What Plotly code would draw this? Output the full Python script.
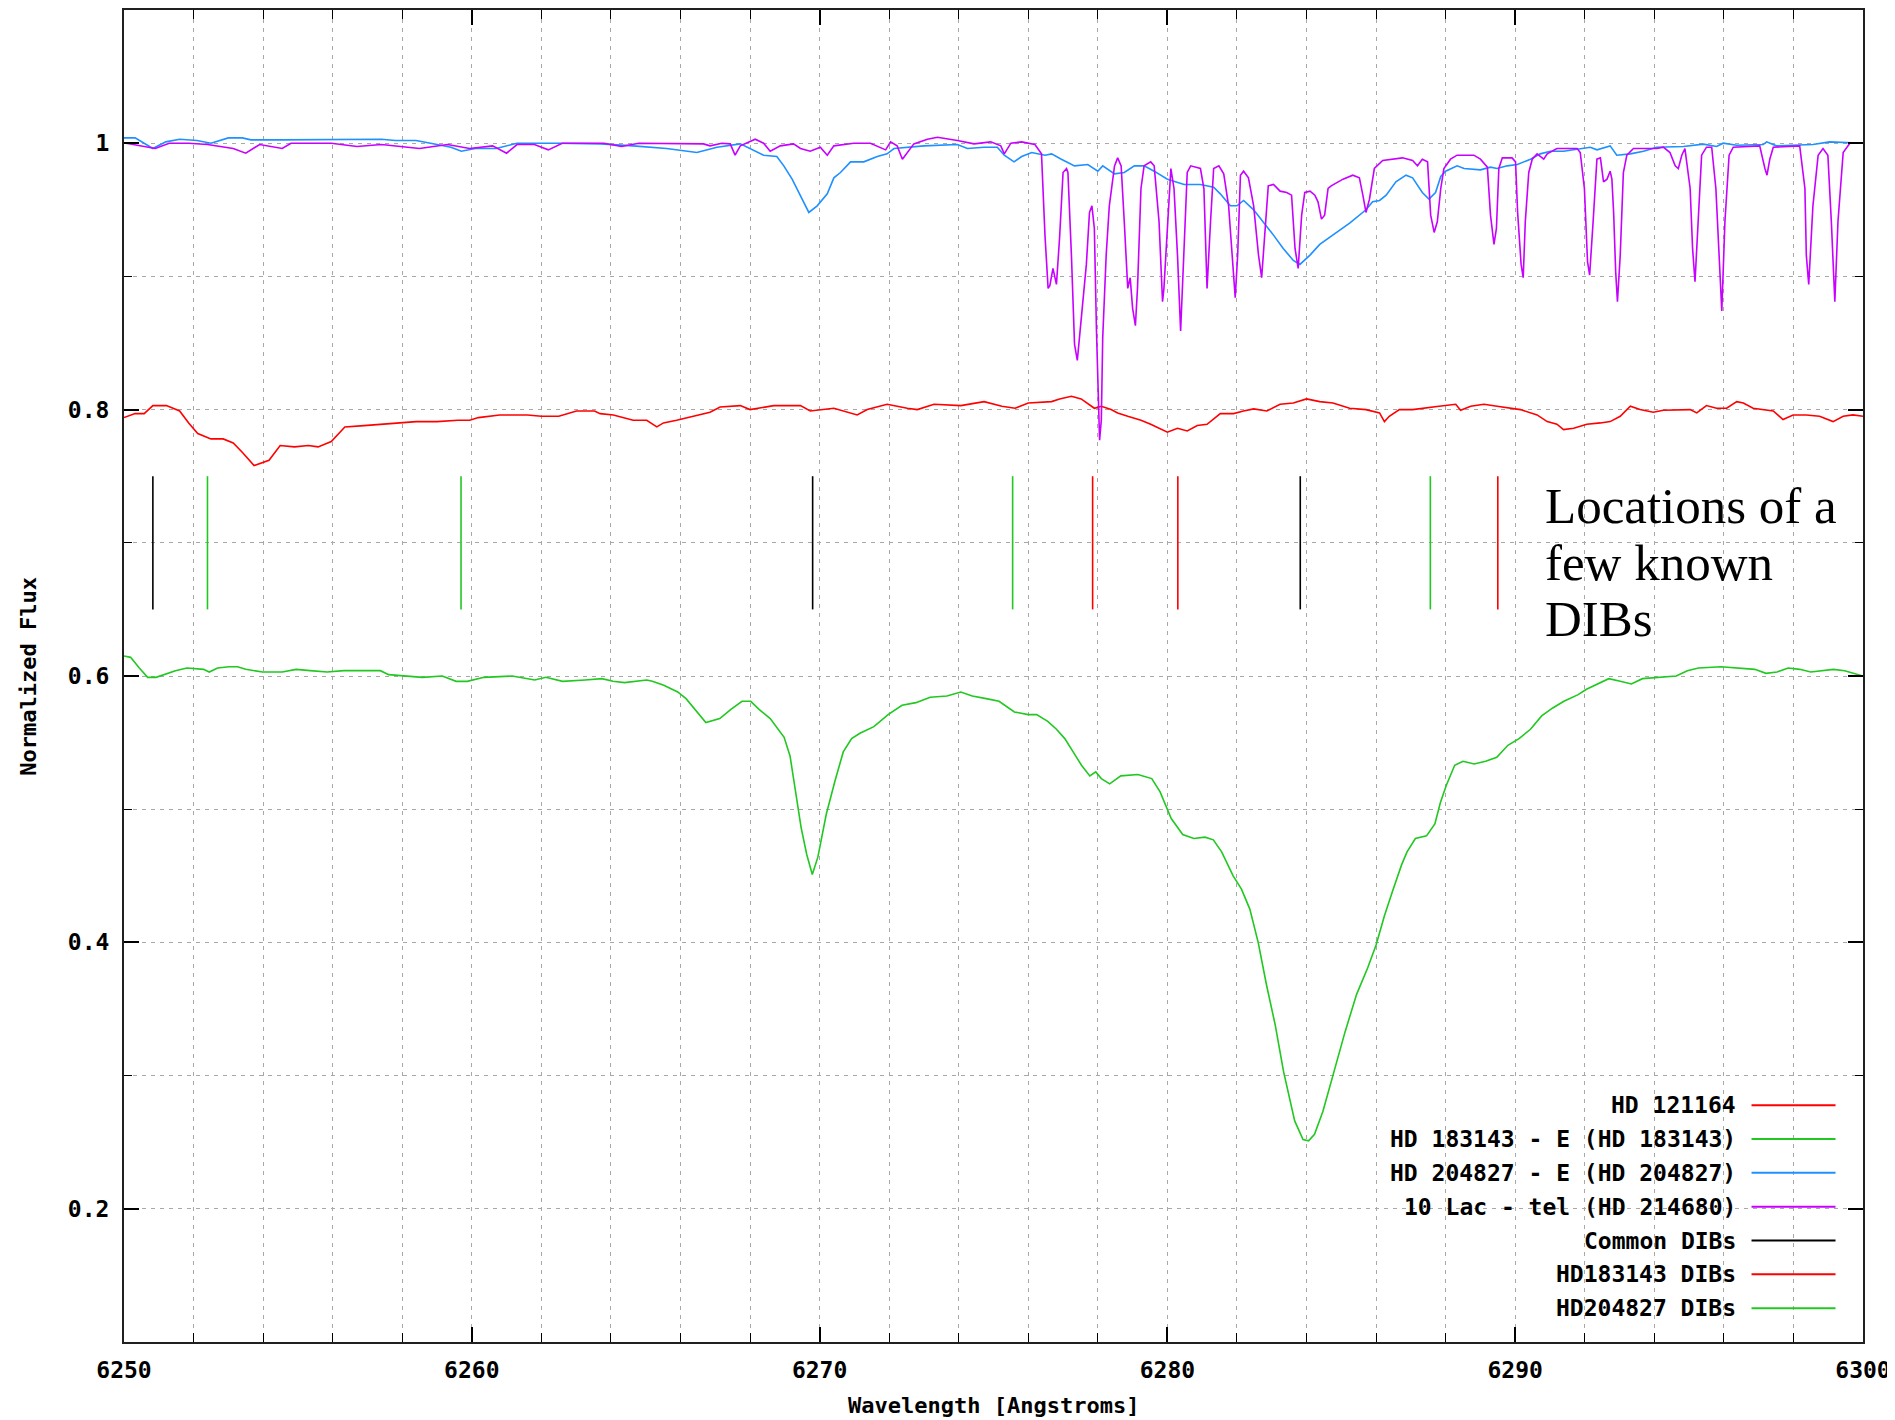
import plotly.graph_objects as go

# ---------------- data ----------------
RED_WL = [6250.0, 6250.32, 6250.58, 6250.83, 6251.22, 6251.6, 6251.86, 6252.12, 6252.5, 6252.85,
          6253.14, 6253.4, 6253.74, 6253.95, 6254.17, 6254.49, 6254.9, 6255.3, 6255.58, 6255.96,
          6256.35, 6256.9, 6257.5, 6258.0, 6258.4, 6259.0, 6259.6, 6259.94, 6260.19, 6260.8,
          6261.6, 6262.0, 6262.5, 6263.01, 6263.53, 6263.69, 6264.07, 6264.64, 6265.03, 6265.32,
          6265.51, 6265.89, 6266.37, 6266.85, 6267.14, 6267.72, 6268.0, 6268.68, 6269.45, 6269.73,
          6270.41, 6271.08, 6271.37, 6271.94, 6272.52, 6272.81, 6273.29, 6274.06, 6274.73, 6275.24,
          6275.62, 6276.0, 6276.67, 6276.9, 6277.24, 6277.52, 6277.9, 6278.1, 6278.38, 6278.57,
          6278.86, 6279.24, 6279.52, 6279.81, 6280.0, 6280.29, 6280.57, 6280.86, 6281.14, 6281.52,
          6281.9, 6282.19, 6282.48, 6282.86, 6283.24, 6283.62, 6284.0, 6284.38, 6284.76, 6285.24,
          6285.71, 6286.1, 6286.24, 6286.38, 6286.67, 6287.05, 6287.43, 6287.81, 6288.29, 6288.43,
          6288.72, 6289.1, 6289.48, 6289.86, 6290.15, 6290.63, 6290.92, 6291.2, 6291.39, 6291.68,
          6292.06, 6292.45, 6292.73, 6293.02, 6293.31, 6293.59, 6293.97, 6294.26, 6294.64, 6295.03,
          6295.22, 6295.5, 6295.79, 6296.08, 6296.37, 6296.56, 6296.84, 6297.13, 6297.42, 6297.7,
          6297.99, 6298.37, 6298.75, 6299.14, 6299.43, 6299.71, 6300.0]
RED_FLUX = [0.794, 0.797, 0.797, 0.803, 0.803, 0.799, 0.790, 0.782, 0.778, 0.778,
            0.775, 0.768, 0.758, 0.760, 0.762, 0.773, 0.772, 0.773, 0.772, 0.776,
            0.787, 0.788, 0.789, 0.790, 0.791, 0.791, 0.792, 0.792, 0.794, 0.796,
            0.796, 0.795, 0.795, 0.799, 0.799, 0.797, 0.796, 0.792, 0.792, 0.787,
            0.790, 0.792, 0.795, 0.798, 0.802, 0.803, 0.800, 0.803, 0.803, 0.799,
            0.801, 0.796, 0.800, 0.804, 0.801, 0.800, 0.804, 0.803, 0.806, 0.8025,
            0.801, 0.805, 0.806, 0.808, 0.810, 0.808, 0.801, 0.8025, 0.800, 0.7975,
            0.795, 0.792, 0.789, 0.785, 0.783, 0.786, 0.784, 0.788, 0.789, 0.797,
            0.797, 0.799, 0.8005, 0.799, 0.804, 0.805, 0.808, 0.806, 0.805, 0.801,
            0.800, 0.7975, 0.791, 0.795, 0.800, 0.800, 0.801, 0.8025, 0.804, 0.7995,
            0.8025, 0.804, 0.8025, 0.801, 0.800, 0.796, 0.791, 0.789, 0.785, 0.786,
            0.789, 0.790, 0.791, 0.795, 0.8025, 0.800, 0.798, 0.7995, 0.800, 0.800,
            0.7975, 0.803, 0.801, 0.801, 0.806, 0.805, 0.801, 0.800, 0.799, 0.7925,
            0.796, 0.796, 0.795, 0.791, 0.795, 0.796, 0.795]

GREEN_WL = [6250.0, 6250.19, 6250.44, 6250.68, 6250.92, 6251.16, 6251.48, 6251.81, 6252.29, 6252.45,
            6252.69, 6253.02, 6253.26, 6253.5, 6253.98, 6254.55, 6254.95, 6255.35, 6255.84, 6256.32,
            6256.81, 6257.37, 6257.61, 6258.1, 6258.58, 6259.15, 6259.55, 6259.87, 6260.35, 6261.16,
            6261.81, 6262.13, 6262.61, 6263.26, 6263.74, 6264.06, 6264.39, 6265.03, 6265.19, 6265.52,
            6265.92, 6266.16, 6266.48, 6266.73, 6267.13, 6267.45, 6267.77, 6268.02, 6268.26, 6268.58,
            6268.98, 6269.15, 6269.31, 6269.47, 6269.63, 6269.79, 6269.95, 6270.19, 6270.44, 6270.68,
            6270.92, 6271.16, 6271.56, 6271.97, 6272.37, 6272.77, 6273.18, 6273.66, 6274.06, 6274.39,
            6274.79, 6275.16, 6275.6, 6276.0, 6276.24, 6276.56, 6276.81, 6277.05, 6277.29, 6277.53,
            6277.77, 6277.94, 6278.1, 6278.34, 6278.66, 6279.15, 6279.55, 6279.79, 6280.11, 6280.44,
            6280.76, 6281.08, 6281.32, 6281.56, 6281.89, 6282.13, 6282.37, 6282.61, 6282.85, 6283.1,
            6283.34, 6283.66, 6283.9, 6284.06, 6284.23, 6284.47, 6284.79, 6285.11, 6285.44, 6285.76,
            6286.0, 6286.24, 6286.48, 6286.73, 6286.89, 6287.13, 6287.45, 6287.69, 6287.85, 6288.02,
            6288.26, 6288.5, 6288.82, 6289.15, 6289.47, 6289.79, 6290.11, 6290.44, 6290.76, 6291.08,
            6291.4, 6291.81, 6292.05, 6292.37, 6292.69, 6293.02, 6293.34, 6293.66, 6294.31, 6294.63,
            6294.95, 6295.27, 6295.92, 6296.4, 6296.89, 6297.21, 6297.53, 6297.85, 6298.18, 6298.5,
            6299.15, 6299.47, 6300.0]
GREEN_FLUX = [0.615, 0.614, 0.606, 0.599, 0.599, 0.601, 0.604, 0.606, 0.605, 0.603,
              0.606, 0.607, 0.607, 0.605, 0.603, 0.603, 0.605, 0.604, 0.603, 0.604,
              0.604, 0.604, 0.601, 0.600, 0.599, 0.600, 0.596, 0.596, 0.599, 0.600,
              0.597, 0.599, 0.596, 0.597, 0.598, 0.596, 0.595, 0.597, 0.596, 0.593,
              0.588, 0.583, 0.573, 0.565, 0.568, 0.575, 0.581, 0.581, 0.575, 0.568,
              0.554, 0.540, 0.513, 0.486, 0.466, 0.451, 0.464, 0.496, 0.521, 0.543,
              0.553, 0.557, 0.562, 0.571, 0.578, 0.580, 0.584, 0.585, 0.588, 0.585,
              0.583, 0.581, 0.573, 0.571, 0.571, 0.566, 0.560, 0.553, 0.543, 0.533,
              0.525, 0.528, 0.523, 0.519, 0.525, 0.526, 0.523, 0.513, 0.493, 0.481,
              0.478, 0.479, 0.477, 0.468, 0.450, 0.440, 0.425, 0.400, 0.368, 0.338,
              0.303, 0.266, 0.252, 0.251, 0.256, 0.273, 0.303, 0.333, 0.361, 0.381,
              0.398, 0.420, 0.439, 0.458, 0.468, 0.478, 0.480, 0.489, 0.505, 0.518,
              0.533, 0.536, 0.534, 0.536, 0.539, 0.548, 0.553, 0.560, 0.570, 0.576,
              0.581, 0.586, 0.590, 0.594, 0.598, 0.596, 0.594, 0.598, 0.599, 0.600,
              0.604, 0.606, 0.607, 0.606, 0.605, 0.602, 0.603, 0.606, 0.605, 0.603,
              0.605, 0.604, 0.600]

BLUE_WL = [6250.0, 6250.32, 6250.83, 6251.2, 6251.6, 6252.1, 6252.5, 6253.0, 6253.4, 6253.65,
           6254.5, 6255.0, 6255.96, 6256.6, 6257.4, 6257.8, 6258.4, 6259.0, 6259.4, 6259.7,
           6260.1, 6260.7, 6261.3, 6262.5, 6263.7, 6264.64, 6265.6, 6266.47, 6267.05, 6267.72,
           6268.0, 6268.39, 6268.77, 6268.97, 6269.21, 6269.45, 6269.69, 6269.93, 6270.22, 6270.41,
           6270.6, 6270.89, 6271.27, 6271.66, 6271.94, 6272.14, 6272.52, 6273.0, 6273.96, 6274.25,
           6274.73, 6275.11, 6275.31, 6275.59, 6275.81, 6276.1, 6276.48, 6276.67, 6276.95, 6277.33,
           6277.71, 6278.0, 6278.14, 6278.48, 6278.76, 6279.05, 6279.33, 6279.62, 6280.0, 6280.48,
           6280.95, 6281.33, 6281.52, 6281.81, 6282.0, 6282.19, 6282.48, 6282.76, 6283.05, 6283.33,
           6283.62, 6283.81, 6284.1, 6284.38, 6284.76, 6285.24, 6285.71, 6285.9, 6286.1, 6286.29,
           6286.57, 6286.86, 6287.05, 6287.33, 6287.52, 6287.71, 6287.86, 6288.0, 6288.33, 6288.53,
           6289.0, 6289.29, 6289.48, 6289.77, 6290.06, 6290.44, 6290.72, 6291.01, 6291.39, 6291.97,
           6292.16, 6292.35, 6292.73, 6292.92, 6293.31, 6293.69, 6294.07, 6294.84, 6295.22, 6295.41,
           6295.79, 6295.98, 6296.37, 6297.13, 6297.23, 6297.51, 6298.56, 6299.04, 6300.0]
BLUE_FLUX = [1.004, 1.004, 0.996, 1.001, 1.003, 1.002, 1.000, 1.004, 1.004, 1.0025,
             1.0025, 1.0025, 1.0025, 1.003, 1.003, 1.002, 1.002, 0.999, 0.997, 0.994,
             0.996, 0.996, 1.000, 1.000, 0.9995, 0.998, 0.996, 0.993, 0.997, 0.9995,
             0.996, 0.991, 0.990, 0.983, 0.973, 0.960, 0.948, 0.953, 0.962, 0.974,
             0.978, 0.986, 0.986, 0.990, 0.992, 0.996, 0.997, 0.998, 0.999, 0.996,
             0.997, 0.997, 0.991, 0.986, 0.990, 0.993, 0.991, 0.992, 0.988, 0.983,
             0.984, 0.979, 0.983, 0.977, 0.978, 0.983, 0.983, 0.979, 0.973, 0.969,
             0.969, 0.967, 0.962, 0.953, 0.953, 0.957, 0.950, 0.941, 0.931, 0.921,
             0.912, 0.909, 0.916, 0.924, 0.931, 0.940, 0.950, 0.956, 0.957, 0.961,
             0.971, 0.976, 0.974, 0.963, 0.958, 0.963, 0.975, 0.979, 0.983, 0.981,
             0.980, 0.982, 0.981, 0.983, 0.984, 0.988, 0.992, 0.994, 0.994, 0.996,
             0.997, 0.995, 0.998, 0.991, 0.992, 0.994, 0.997, 0.9975, 0.9985, 0.9993,
             0.9975, 1.000, 0.9985, 0.999, 1.001, 0.998, 0.999, 1.001, 1.000]

PURPLE_WL = [6250.06, 6250.58, 6250.9, 6251.3, 6251.86, 6252.4, 6253.14, 6253.5, 6253.9, 6254.55,
             6254.8, 6255.96, 6256.7, 6257.4, 6258.5, 6259.3, 6259.94, 6260.6, 6261.0, 6261.3,
             6261.8, 6262.2, 6262.6, 6263.8, 6264.3, 6264.8, 6265.6, 6266.66, 6266.85, 6267.19,
             6267.43, 6267.57, 6267.72, 6267.91, 6268.15, 6268.39, 6268.58, 6268.87, 6269.25, 6269.45,
             6269.73, 6270.02, 6270.22, 6270.41, 6270.98, 6271.46, 6271.9, 6272.04, 6272.23, 6272.38,
             6272.52, 6272.71, 6273.1, 6273.39, 6273.96, 6274.44, 6274.92, 6275.21, 6275.31, 6275.5,
             6275.81, 6276.19, 6276.38, 6276.48, 6276.57, 6276.62, 6276.71, 6276.81, 6276.9, 6277.0,
             6277.1, 6277.14, 6277.24, 6277.33, 6277.41, 6277.52, 6277.67, 6277.76, 6277.83, 6277.9,
             6277.96, 6278.05, 6278.1, 6278.14, 6278.24, 6278.33, 6278.48, 6278.57, 6278.67, 6278.76,
             6278.86, 6278.93, 6279.0, 6279.08, 6279.14, 6279.24, 6279.33, 6279.52, 6279.62, 6279.76,
             6279.86, 6279.9, 6280.0, 6280.1, 6280.19, 6280.29, 6280.38, 6280.48, 6280.57, 6280.67,
             6280.95, 6281.05, 6281.14, 6281.24, 6281.33, 6281.48, 6281.62, 6281.76, 6281.86, 6281.95,
             6282.02, 6282.1, 6282.19, 6282.33, 6282.48, 6282.62, 6282.71, 6282.81, 6282.9, 6283.05,
             6283.24, 6283.43, 6283.57, 6283.67, 6283.76, 6283.86, 6283.95, 6284.1, 6284.24, 6284.33,
             6284.43, 6284.52, 6284.62, 6284.71, 6285.05, 6285.33, 6285.52, 6285.62, 6285.71, 6285.81,
             6285.95, 6286.19, 6286.48, 6286.76, 6287.05, 6287.19, 6287.33, 6287.48, 6287.57, 6287.67,
             6287.76, 6287.86, 6287.95, 6288.14, 6288.33, 6288.81, 6289.0, 6289.2, 6289.29, 6289.39,
             6289.46, 6289.53, 6289.63, 6289.91, 6290.01, 6290.07, 6290.17, 6290.23, 6290.29, 6290.39,
             6290.49, 6290.63, 6290.82, 6290.92, 6291.2, 6291.78, 6291.87, 6291.99, 6292.08, 6292.14,
             6292.24, 6292.35, 6292.45, 6292.54, 6292.64, 6292.73, 6292.78, 6292.83, 6292.89, 6292.94,
             6293.02, 6293.11, 6293.21, 6293.4, 6294.07, 6294.26, 6294.45, 6294.6, 6294.69, 6294.79,
             6294.88, 6295.03, 6295.1, 6295.17, 6295.27, 6295.36, 6295.5, 6295.65, 6295.77, 6295.87,
             6295.94, 6296.03, 6296.15, 6296.27, 6297.03, 6297.18, 6297.24, 6297.32, 6297.42, 6298.18,
             6298.33, 6298.37, 6298.44, 6298.56, 6298.71, 6298.85, 6298.99, 6299.09, 6299.19, 6299.28,
             6299.43, 6299.62, 6300.0]
PURPLE_FLUX = [1.000, 0.9975, 0.996, 1.000, 1.000, 0.999, 0.996, 0.9925, 0.999, 0.996,
               1.000, 1.000, 0.9975, 0.999, 0.996, 0.999, 0.996, 0.998, 0.9925, 0.999,
               0.999, 0.995, 1.000, 1.000, 0.9975, 1.000, 1.000, 0.9995, 0.998, 1.000,
               0.9995, 0.991, 0.998, 1.000, 1.003, 1.000, 0.994, 0.998, 0.9995, 0.996,
               0.994, 0.997, 0.991, 0.998, 1.000, 1.000, 0.995, 1.001, 0.998, 0.988,
               0.993, 0.9995, 1.003, 1.0045, 1.002, 0.9995, 1.001, 0.998, 0.992, 1.000,
               1.001, 0.999, 0.992, 0.931, 0.891, 0.893, 0.906, 0.894, 0.929, 0.978,
               0.981, 0.978, 0.916, 0.849, 0.837, 0.867, 0.909, 0.948, 0.953, 0.936,
               0.860, 0.777, 0.792, 0.854, 0.916, 0.953, 0.983, 0.989, 0.983, 0.941,
               0.891, 0.899, 0.876, 0.863, 0.891, 0.966, 0.983, 0.986, 0.983, 0.941,
               0.881, 0.891, 0.941, 0.981, 0.966, 0.916, 0.859, 0.916, 0.978, 0.983,
               0.981, 0.966, 0.891, 0.941, 0.981, 0.983, 0.977, 0.953, 0.916, 0.884,
               0.916, 0.976, 0.979, 0.974, 0.953, 0.916, 0.899, 0.936, 0.968, 0.969,
               0.964, 0.963, 0.961, 0.921, 0.906, 0.946, 0.963, 0.964, 0.961, 0.956,
               0.943, 0.946, 0.966, 0.968, 0.973, 0.976, 0.974, 0.961, 0.948, 0.958,
               0.981, 0.987, 0.988, 0.989, 0.987, 0.983, 0.988, 0.986, 0.946, 0.933,
               0.941, 0.966, 0.981, 0.988, 0.991, 0.991, 0.988, 0.982, 0.946, 0.924,
               0.936, 0.981, 0.989, 0.989, 0.986, 0.948, 0.909, 0.899, 0.941, 0.978,
               0.988, 0.992, 0.988, 0.992, 0.996, 0.996, 0.993, 0.966, 0.911, 0.901,
               0.941, 0.988, 0.989, 0.971, 0.973, 0.979, 0.973, 0.948, 0.903, 0.881,
               0.916, 0.978, 0.991, 0.996, 0.996, 0.997, 0.993, 0.983, 0.981, 0.991,
               0.996, 0.966, 0.921, 0.896, 0.946, 0.991, 0.997, 0.997, 0.966, 0.916,
               0.874, 0.941, 0.991, 0.997, 0.998, 0.981, 0.976, 0.988, 0.997, 0.998,
               0.966, 0.916, 0.894, 0.953, 0.991, 0.996, 0.991, 0.941, 0.881, 0.941,
               0.993, 1.000, 1.000]

DIB_COMMON = [6250.83, 6269.8, 6283.82]
DIB_HD183143 = [6277.85, 6280.3, 6289.5]
DIB_HD204827 = [6252.4, 6259.69, 6275.55, 6287.56]
DIB_Y_RANGE = [0.65, 0.75]

SERIES_NAMES = ["HD 121164", "HD 183143 - E (HD 183143)", "HD 204827 - E (HD 204827)",
                "10 Lac - tel (HD 214680)", "Common DIBs", "HD183143 DIBs", "HD204827 DIBs"]
SERIES_COLORS = ["#ff0000", "#20c820", "#1e90ff", "#c800ff", "#000000", "#ff0000", "#20c820"]

X_TICKS = [6250, 6260, 6270, 6280, 6290, 6300]
X_TICK_TEXT = ["6250", "6260", "6270", "6280", "6290", "6300"]
Y_TICKS = [0.2, 0.4, 0.6, 0.8, 1.0]
Y_TICK_TEXT = ["0.2", "0.4", "0.6", "0.8", "1"]

X_TITLE = "Wavelength [Angstroms]"
Y_TITLE = "Normalized Flux"
NOTE_LINES = ["Locations of a", "few known", "DIBs"]
NOTE_X = 6290.79
NOTE_Y = [0.7274, 0.6846, 0.6425]

# ---------------- figure ----------------
MONO = "DejaVu Sans Mono"
fig = go.Figure()

spectra = [(RED_WL, RED_FLUX), (GREEN_WL, GREEN_FLUX), (BLUE_WL, BLUE_FLUX), (PURPLE_WL, PURPLE_FLUX)]
for (wl, fl), name, col in zip(spectra, SERIES_NAMES[:4], SERIES_COLORS[:4]):
    fig.add_trace(go.Scatter(x=wl, y=fl, mode="lines", name=name,
                             line=dict(color=col, width=1.6), showlegend=False))


def seg(positions):
    xs, ys = [], []
    for p in positions:
        xs += [p, p, None]
        ys += [DIB_Y_RANGE[0], DIB_Y_RANGE[1], None]
    return xs, ys


for pos, name, col in zip([DIB_COMMON, DIB_HD183143, DIB_HD204827], SERIES_NAMES[4:], SERIES_COLORS[4:]):
    xs, ys = seg(pos)
    fig.add_trace(go.Scatter(x=xs, y=ys, mode="lines", name=name,
                             line=dict(color=col, width=1.6), showlegend=False))

# custom gnuplot-style legend (text right, sample line on its right)
leg_text_x = 0.9284
leg_line_x0, leg_line_x1 = 0.9359, 0.9842
leg_top, leg_step = 0.1778, 0.0254
for i, (name, col) in enumerate(zip(SERIES_NAMES, SERIES_COLORS)):
    yy = leg_top - i * leg_step
    fig.add_annotation(x=leg_text_x, y=yy, xref="paper", yref="paper", text=name,
                       showarrow=False, xanchor="right", yanchor="middle",
                       font=dict(family=MONO, size=23, color="#000000", weight="bold"))
    fig.add_shape(type="line", xref="paper", yref="paper", x0=leg_line_x0, x1=leg_line_x1,
                  y0=yy, y1=yy, line=dict(color=col, width=2))

for txt, yy in zip(NOTE_LINES, NOTE_Y):
    fig.add_annotation(x=NOTE_X, y=yy, xref="x", yref="y", text=txt, showarrow=False,
                       xanchor="left", yanchor="middle",
                       font=dict(family="Liberation Serif", size=51, color="#000000"))

# axis titles
fig.add_annotation(x=0.5, y=-0.0477, xref="paper", yref="paper", text=X_TITLE, showarrow=False,
                   xanchor="center", yanchor="middle",
                   font=dict(family=MONO, size=22, color="#000000", weight="bold"))
fig.add_annotation(x=-0.0554, y=0.5, xref="paper", yref="paper", text=Y_TITLE, showarrow=False,
                   textangle=-90, xanchor="center", yanchor="middle",
                   font=dict(family=MONO, size=22, color="#000000", weight="bold"))

GRID = "#a8a8a8"
DASH = "4px,5px"
axis_common = dict(showline=True, linecolor="#202020", linewidth=2, mirror="ticks",
                   ticks="inside", tickcolor="#000000", tickwidth=1.5, ticklen=15,
                   showgrid=True, gridcolor=GRID, gridwidth=1, griddash=DASH,
                   zeroline=False,
                   tickfont=dict(family=MONO, size=23, color="#000000", weight="bold"))

fig.update_xaxes(range=[6250, 6300], tickmode="array", tickvals=X_TICKS, ticktext=X_TICK_TEXT,
                 ticklabelstandoff=6,
                 minor=dict(tickmode="linear", tick0=6250, dtick=2, ticks="inside", ticklen=9,
                            tickcolor="#000000", tickwidth=1.2,
                            showgrid=True, gridcolor=GRID, gridwidth=1, griddash=DASH),
                 **axis_common)
fig.update_yaxes(range=[0.1, 1.1], tickmode="array", tickvals=Y_TICKS, ticktext=Y_TICK_TEXT,
                 ticklabelstandoff=8,
                 minor=dict(tickmode="linear", tick0=0.1, dtick=0.1, ticks="inside", ticklen=8,
                            tickcolor="#000000", tickwidth=1.2,
                            showgrid=True, gridcolor=GRID, gridwidth=1, griddash=DASH),
                 **axis_common)

# the page body adds an 8px offset, so the figure is 8px smaller and margins shifted
fig.update_layout(width=1887, height=1412, plot_bgcolor="#ffffff", paper_bgcolor="#ffffff",
                  margin=dict(l=116, r=32, t=2, b=78, autoexpand=False),
                  showlegend=False)

fig.write_html("out.html")
